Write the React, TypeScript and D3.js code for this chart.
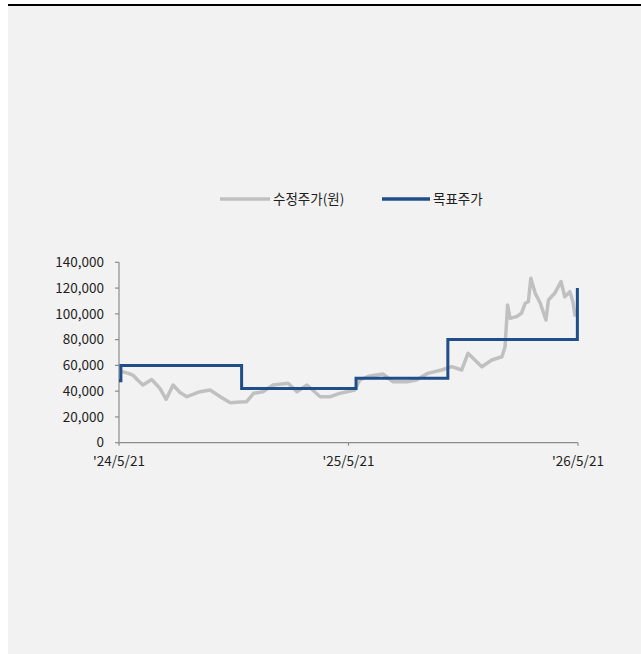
import React from "react";
import * as d3 from "d3";

// 수정주가 (adjusted close)
const priceDates = [
  "2024-05-21", "2024-05-27", "2024-06-04", "2024-06-12", "2024-06-20", "2024-06-28",
  "2024-07-12", "2024-07-25", "2024-08-04", "2024-08-15", "2024-08-26", "2024-09-06",
  "2024-09-27", "2024-10-13", "2024-10-29", "2024-11-14", "2024-11-29", "2024-12-10",
  "2024-12-21", "2025-01-05", "2025-01-21", "2025-02-14", "2025-02-28", "2025-03-16",
  "2025-04-06", "2025-04-22", "2025-05-07", "2025-05-31", "2025-06-08", "2025-06-24",
  "2025-07-15", "2025-07-31", "2025-08-22", "2025-09-06", "2025-09-24", "2025-10-16",
  "2025-11-01", "2025-11-17", "2025-11-27", "2025-12-08", "2025-12-19", "2026-01-04",
  "2026-01-20", "2026-01-25", "2026-01-29", "2026-02-02", "2026-02-12", "2026-02-20",
  "2026-02-26", "2026-03-03", "2026-03-07", "2026-03-14", "2026-03-22", "2026-03-31",
  "2026-04-04", "2026-04-14", "2026-04-24", "2026-04-30", "2026-05-08", "2026-05-13",
  "2026-05-16", "2026-05-20",
];
const priceValues = [
  55000, 55000, 54000, 52500, 48500, 44800,
  49000, 42200, 33700, 44800, 39000, 35700,
  39600, 40900, 35700, 31000, 31600, 31800,
  38300, 39600, 44800, 46100, 39600, 44800,
  35700, 35700, 38300, 40900, 48700, 51800,
  53300, 47300, 47300, 48700, 53800, 56400,
  59000, 56400, 69400, 64200, 59000, 64200,
  66700, 74500, 106900, 96500, 97800, 100400,
  108200, 109400, 127600, 116000, 108200, 95200,
  110700, 116000, 125000, 113300, 117200, 109400,
  99100, 103000,
];

// 목표주가 (target price) changes
const targetDates = ["2024-05-21", "2024-05-24", "2024-12-02", "2025-06-02", "2025-10-26", "2026-05-20"];
const targetValues = [48000, 60000, 42000, 50000, 80000, 120000];

const xTickDates = ["2024-05-21", "2025-05-21", "2026-05-21"];
const xTickLabels = ["'24/5/21", "'25/5/21", "'26/5/21"];
const yTicks = [0, 20000, 40000, 60000, 80000, 100000, 120000, 140000];

const W = 641;
const H = 654;
const FONT = "'Noto Sans CJK KR', 'Noto Sans', sans-serif";

export default function App() {
  const parse = d3.utcParse("%Y-%m-%d");

  const x = d3
    .scaleUtc()
    .domain([parse("2024-05-21")!, parse("2026-05-21")!])
    .range([119, 578]);
  const y = d3.scaleLinear().domain([0, 140000]).range([442.7, 262.3]);

  const price = priceDates.map((d, i) => ({ date: parse(d)!, value: priceValues[i] }));
  const target = targetDates.map((d, i) => ({ date: parse(d)!, value: targetValues[i] }));

  const priceLine = d3
    .line<{ date: Date; value: number }>()
    .x((d) => x(d.date))
    .y((d) => y(d.value));
  const targetLine = d3
    .line<{ date: Date; value: number }>()
    .x((d) => x(d.date))
    .y((d) => y(d.value))
    .curve(d3.curveStepAfter);

  const fmt = d3.format(",");
  const axisColor = "#8c8c8c";
  const textColor = "#1e1e1e";
  const x0 = x.range()[0];
  const x1 = x.range()[1];

  return (
    <svg
      width={W}
      height={H}
      style={{ position: "absolute", left: 0, top: 0, fontFamily: FONT }}
    >
      <rect x={0} y={0} width={W} height={H} fill="#ffffff" />
      <rect x={8} y={5} width={W - 8} height={H - 5} fill="#f2f2f2" />
      <line x1={8} x2={W} y1={5} y2={5} stroke="#000" strokeWidth={2} />

      {/* legend */}
      <g fontSize={13.5} fill={textColor}>
        <line x1={220} x2={270} y1={199} y2={199} stroke="#c0c0c0" strokeWidth={3.5} />
        <text x={273} y={199} dy="0.35em">수정주가(원)</text>
        <line x1={382} x2={430} y1={199} y2={199} stroke="#1f4e89" strokeWidth={3.5} />
        <text x={433} y={199} dy="0.35em">목표주가</text>
      </g>

      {/* y axis */}
      <g fontSize={13.5} fill={textColor}>
        <line x1={x0} x2={x0} y1={y(140000)} y2={y(0)} stroke={axisColor} strokeWidth={1.2} />
        {yTicks.map((t) => (
          <g key={t}>
            <line x1={x0 - 4} x2={x0} y1={y(t)} y2={y(t)} stroke={axisColor} strokeWidth={1.2} />
            <text x={104} y={y(t)} dy="0.35em" textAnchor="end">
              {fmt(t)}
            </text>
          </g>
        ))}
      </g>

      {/* x axis */}
      <g fontSize={13.5} fill={textColor}>
        <line x1={x0} x2={x1} y1={y(0)} y2={y(0)} stroke={axisColor} strokeWidth={1.2} />
        {xTickDates.map((d, i) => {
          const px = x(parse(d)!);
          return (
            <g key={d}>
              <line x1={px} x2={px} y1={y(0)} y2={y(0) + 3} stroke={axisColor} strokeWidth={1.2} />
              <text x={px} y={466} textAnchor="middle">
                {xTickLabels[i]}
              </text>
            </g>
          );
        })}
      </g>

      <path
        d={priceLine(price) ?? ""}
        fill="none"
        stroke="#c0c0c0"
        strokeWidth={3.5}
        strokeLinejoin="round"
      />
      <path
        d={targetLine(target) ?? ""}
        fill="none"
        stroke="#1f4e89"
        strokeWidth={3}
      />
    </svg>
  );
}
